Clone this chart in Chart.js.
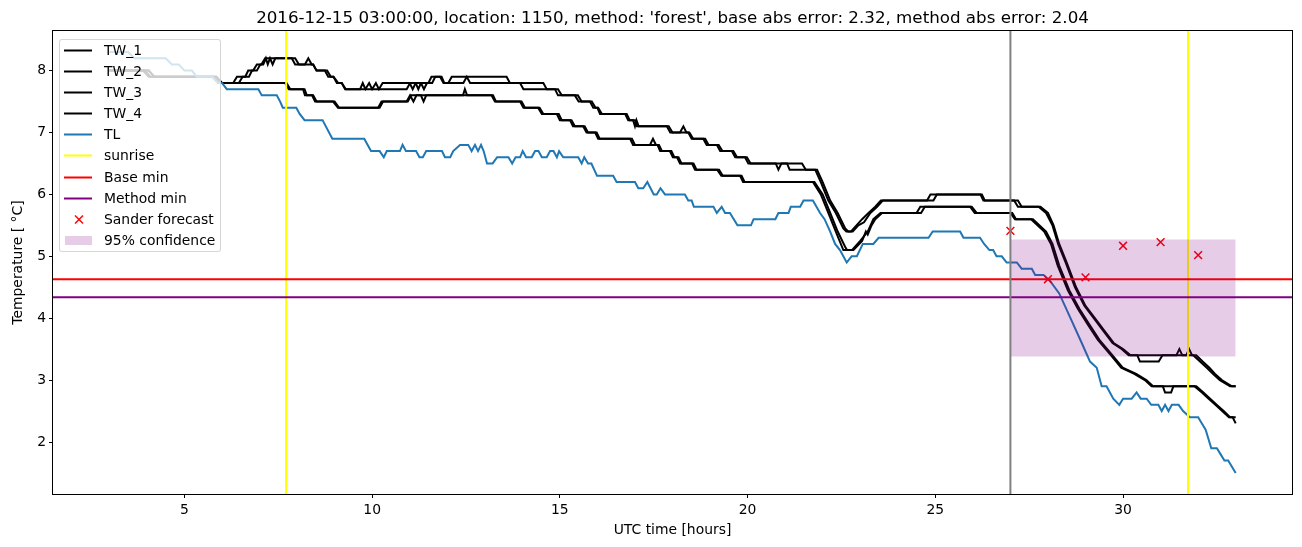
<!DOCTYPE html>
<html>
<head>
<meta charset="utf-8">
<title>forest 1150</title>
<script src="https://cdn.jsdelivr.net/npm/chart.js@4.4.1/dist/chart.umd.min.js"></script>
<style>
    body { margin: 0; background: #fff; font-family: 'DejaVu Sans', sans-serif; }
    #wrap { position: relative; width: 1302px; height: 547px; }
    #titulo { position: absolute; left: 53px; width: 1239px; top: 7px; text-align: center;
              font-size: 16.7px; line-height: 20px; color: #000; white-space: nowrap; }
    #leyenda { position: absolute; left: 59px; top: 39px; width: 160px; height: 211px;
               background: rgba(255,255,255,0.8); border: 1px solid rgba(204,204,204,0.8);
               border-radius: 3px; }
    .item { position: absolute; left: 0; width: 160px; height: 21px; line-height: 21px;
            font-size: 13.9px; color: #000; white-space: nowrap; }
    .item svg { position: absolute; left: 4px; top: 0; }
    .item span { position: absolute; left: 44px; top: 0; }
</style>
</head>
<body>
<div id="wrap">
    <canvas id="grafica" width="1302" height="547"></canvas>
    <div id="titulo">2016-12-15 03:00:00, location: 1150, method: 'forest', base abs error: 2.32, method abs error: 2.04</div>
    <div id="leyenda"></div>
</div>
<script>
"use strict"

// ejes
var xMin = 1.5, xMax = 34.5;
var yMin = 1.16, yMax = 8.64;
var xTicks = [5, 10, 15, 20, 25, 30];
var yTicks = [2, 3, 4, 5, 6, 7, 8];

// series [hora, temperatura]
var tl = [
    [3.0,8.3],[3.5,8.3],[3.67,8.2],[4.5,8.2],[4.67,8.1],[4.85,8.1],[5.0,8.0],[5.2,8.0],[5.33,7.9],[5.75,7.9],
    [5.9,7.8],[6.0,7.8],[6.13,7.7],[6.97,7.7],[7.06,7.6],[7.46,7.6],[7.55,7.5],[7.62,7.4],[7.98,7.4],[8.07,7.3],
    [8.2,7.2],[8.68,7.2],[8.94,6.9],[9.79,6.9],[9.97,6.7],[10.2,6.7],[10.31,6.6],[10.39,6.7],[10.74,6.7],[10.81,6.8],
    [10.9,6.7],[11.17,6.7],[11.26,6.6],[11.35,6.6],[11.44,6.7],[11.86,6.7],[11.94,6.6],[12.08,6.6],[12.16,6.7],[12.34,6.8],
    [12.56,6.8],[12.65,6.7],[12.74,6.8],[12.82,6.7],[12.9,6.8],[12.97,6.7],[13.06,6.5],[13.21,6.5],[13.33,6.6],[13.63,6.6],
    [13.73,6.5],[13.82,6.6],[13.94,6.6],[14.01,6.7],[14.1,6.6],[14.25,6.6],[14.34,6.7],[14.43,6.7],[14.52,6.6],[14.65,6.6],
    [14.74,6.7],[14.83,6.7],[14.92,6.6],[14.98,6.7],[15.09,6.6],[15.49,6.6],[15.58,6.5],[15.65,6.6],[15.75,6.5],[15.84,6.5],
    [15.99,6.3],[16.42,6.3],[16.51,6.2],[17.0,6.2],[17.09,6.1],[17.22,6.1],[17.33,6.2],[17.5,6.0],[17.58,6.0],[17.68,6.1],
    [17.8,6.0],[18.33,6.0],[18.42,5.9],[18.51,5.9],[18.57,5.8],[19.09,5.8],[19.18,5.7],[19.31,5.8],[19.4,5.7],[19.53,5.7],
    [19.73,5.5],[20.09,5.5],[20.16,5.6],[20.74,5.6],[20.82,5.7],[21.09,5.7],[21.15,5.8],[21.4,5.8],[21.49,5.9],[21.74,5.9],
    [21.93,5.7],[22.05,5.6],[22.2,5.4],[22.33,5.2],[22.46,5.1],[22.64,4.9],[22.77,5.0],[22.91,5.0],[23.07,5.2],[23.35,5.2],
    [23.49,5.3],[24.82,5.3],[24.93,5.4],[25.66,5.4],[25.75,5.3],[26.19,5.3],[26.3,5.2],[26.44,5.1],[26.54,5.1],[26.63,5.0],
    [26.77,5.0],[26.9,4.9],[27.17,4.9],[27.3,4.8],[27.57,4.8],[27.66,4.7],[27.88,4.7],[28.06,4.6],[28.3,4.4],[28.6,4.0],
    [28.9,3.6],[29.12,3.3],[29.3,3.2],[29.43,2.9],[29.56,2.9],[29.74,2.7],[29.9,2.6],[30.0,2.7],[30.23,2.7],[30.36,2.8],
    [30.47,2.7],[30.63,2.7],[30.75,2.6],[30.94,2.6],[31.03,2.5],[31.12,2.6],[31.21,2.5],[31.3,2.6],[31.48,2.6],[31.6,2.5],
    [31.78,2.4],[32.0,2.4],[32.1,2.3],[32.2,2.2],[32.35,1.9],[32.5,1.9],[32.6,1.8],[32.7,1.7],[32.8,1.7],[32.9,1.6],[33.0,1.5]
];

var tw1 = [
    [3.0,8.0],[3.9,8.0],[4.05,7.9],[5.75,7.9],[5.9,7.8],[6.3,7.8],[6.4,7.9],[6.62,7.9],[6.7,8.0],[6.83,8.0],
    [6.93,8.1],[7.05,8.1],[7.15,8.2],[7.86,8.2],[7.95,8.1],[8.21,8.1],[8.3,8.2],[8.39,8.1],[8.43,8.1],[8.52,8.0],
    [8.74,8.0],[8.83,7.9],[8.97,7.9],[9.06,7.8],[9.19,7.8],[9.28,7.7],[9.68,7.7],[9.75,7.8],[9.82,7.7],[9.92,7.8],
    [10.0,7.7],[10.1,7.8],[10.18,7.7],[10.28,7.8],[11.0,7.8],[11.08,7.7],[11.16,7.8],[11.3,7.8],[11.38,7.7],[11.46,7.8],
    [11.5,7.8],[11.58,7.9],[11.81,7.9],[11.9,7.8],[12.03,7.8],[12.12,7.9],[13.58,7.9],[13.67,7.8],[14.56,7.8],[14.65,7.7],
    [14.87,7.7],[14.95,7.6],[15.4,7.6],[15.5,7.5],[15.8,7.5],[15.89,7.4],[16.0,7.4],[16.07,7.3],[16.74,7.3],[16.82,7.2],
    [17.0,7.2],[17.05,7.1],[17.85,7.1],[17.94,7.0],[18.2,7.0],[18.29,7.1],[18.37,7.0],[18.42,7.0],[18.51,6.9],[18.82,6.9],
    [18.91,6.8],[19.18,6.8],[19.27,6.7],[19.58,6.7],[19.67,6.6],[19.93,6.6],[20.02,6.5],[21.45,6.5],[21.55,6.4],[21.85,6.4],
    [22.0,6.2],[22.2,5.9],[22.4,5.7],[22.6,5.45],[22.68,5.4],[22.8,5.4],[22.95,5.5],[23.1,5.55],[23.27,5.7],[23.45,5.8],
    [23.6,5.9],[24.78,5.9],[24.87,6.0],[26.2,6.0],[26.28,5.9],[27.1,5.9],[27.2,5.8],[27.8,5.8],[28.0,5.7],[28.15,5.5],
    [28.3,5.2],[28.5,4.9],[28.75,4.5],[29.0,4.2],[29.25,4.0],[29.5,3.8],[29.75,3.6],[30.0,3.5],[30.2,3.4],[31.42,3.4],
    [31.5,3.5],[31.58,3.4],[31.87,3.4],[32.05,3.3],[32.23,3.2],[32.4,3.1],[32.58,3.0],[32.85,2.9],[33.0,2.9]
];

var tw2 = [
    [3.0,8.0],[4.05,8.0],[4.2,7.9],[5.85,7.9],[6.0,7.8],[6.45,7.8],[6.55,7.9],[6.72,7.9],[6.8,8.0],[6.93,8.0],
    [7.02,8.1],[7.1,8.1],[7.17,8.2],[7.22,8.1],[7.28,8.2],[7.35,8.1],[7.42,8.2],[7.95,8.2],[8.05,8.1],[8.43,8.1],
    [8.52,8.0],[8.8,8.0],[8.9,7.9],[8.97,7.9],[9.1,7.8],[9.19,7.8],[9.3,7.7],[10.92,7.7],[11.01,7.8],[11.16,7.8],
    [11.23,7.7],[11.3,7.8],[11.6,7.8],[11.68,7.9],[11.85,7.9],[11.92,7.8],[12.43,7.8],[12.52,7.9],[12.61,7.8],[13.94,7.8],
    [14.03,7.7],[14.95,7.7],[15.05,7.6],[15.48,7.6],[15.58,7.5],[15.85,7.5],[15.95,7.4],[16.02,7.4],[16.12,7.3],[16.78,7.3],
    [16.86,7.2],[16.95,7.2],[17.0,7.1],[17.04,7.2],[17.1,7.1],[17.9,7.1],[18.0,7.0],[18.45,7.0],[18.55,6.9],[18.87,6.9],
    [18.96,6.8],[19.23,6.8],[19.33,6.7],[19.62,6.7],[19.72,6.6],[19.98,6.6],[20.08,6.5],[20.75,6.5],[20.82,6.4],[20.9,6.5],
    [21.05,6.5],[21.12,6.4],[21.8,6.4],[21.95,6.2],[22.15,5.9],[22.35,5.7],[22.55,5.45],[22.63,5.4],[22.75,5.4],[22.9,5.5],
    [23.05,5.6],[23.22,5.7],[23.4,5.8],[23.55,5.9],[24.95,5.9],[25.04,6.0],[26.24,6.0],[26.32,5.9],[27.2,5.9],[27.3,5.8],
    [27.75,5.8],[27.95,5.7],[28.12,5.5],[28.27,5.2],[28.47,4.9],[28.72,4.5],[28.97,4.2],[29.22,4.0],[29.47,3.8],[29.72,3.6],
    [29.97,3.5],[30.15,3.4],[30.38,3.4],[30.45,3.3],[30.95,3.3],[31.05,3.4],[31.68,3.4],[31.76,3.5],[31.84,3.4],[31.95,3.4],
    [32.12,3.3],[32.3,3.2],[32.45,3.1],[32.63,3.0],[32.9,2.9],[33.0,2.9]
];

var tw3 = [
    [3.0,8.0],[3.95,8.0],[4.1,7.9],[5.78,7.9],[5.92,7.8],[7.68,7.8],[7.78,7.7],[8.16,7.7],[8.21,7.6],[8.4,7.6],
    [8.48,7.5],[8.96,7.5],[9.09,7.4],[10.16,7.4],[10.25,7.5],[10.92,7.5],[11.01,7.6],[11.1,7.5],[11.18,7.6],[12.42,7.6],
    [12.47,7.7],[12.53,7.6],[13.18,7.6],[13.27,7.5],[13.94,7.5],[14.03,7.4],[14.42,7.4],[14.52,7.3],[14.92,7.3],[15.0,7.2],
    [15.27,7.2],[15.35,7.1],[15.62,7.1],[15.71,7.0],[15.94,7.0],[16.02,6.9],[16.87,6.9],[16.95,6.8],[17.4,6.8],[17.48,6.9],
    [17.56,6.8],[17.6,6.8],[17.67,6.7],[17.93,6.7],[18.01,6.6],[18.12,6.6],[18.2,6.5],[18.52,6.5],[18.6,6.4],[19.19,6.4],
    [19.3,6.3],[19.8,6.3],[19.88,6.2],[21.74,6.2],[21.95,6.0],[22.15,5.7],[22.35,5.4],[22.55,5.1],[22.78,5.1],[23.0,5.25],
    [23.2,5.4],[23.35,5.6],[23.54,5.7],[24.5,5.7],[24.6,5.8],[25.93,5.8],[26.05,5.7],[27.05,5.7],[27.15,5.6],[27.6,5.6],
    [27.95,5.4],[28.12,5.2],[28.3,4.85],[28.57,4.45],[28.84,4.15],[29.1,3.9],[29.37,3.65],[29.72,3.4],[29.99,3.2],[30.35,3.1],
    [30.62,3.0],[30.8,2.9],[31.95,2.9],[32.14,2.8],[32.32,2.7],[32.5,2.6],[32.68,2.5],[32.85,2.4],[33.0,2.4]
];

var tw4 = [
    [3.0,8.0],[4.05,8.0],[4.2,7.9],[5.85,7.9],[6.0,7.8],[7.72,7.8],[7.82,7.7],[8.2,7.7],[8.26,7.6],[8.43,7.6],
    [8.52,7.5],[9.0,7.5],[9.12,7.4],[10.2,7.4],[10.29,7.5],[10.95,7.5],[11.04,7.6],[11.3,7.6],[11.37,7.5],[11.44,7.6],
    [13.22,7.6],[13.3,7.5],[13.98,7.5],[14.07,7.4],[14.46,7.4],[14.56,7.3],[14.97,7.3],[15.05,7.2],[15.31,7.2],[15.4,7.1],
    [15.66,7.1],[15.75,7.0],[15.98,7.0],[16.06,6.9],[16.92,6.9],[17.0,6.8],[17.64,6.8],[17.72,6.7],[17.97,6.7],[18.05,6.6],
    [18.16,6.6],[18.24,6.5],[18.56,6.5],[18.64,6.4],[19.24,6.4],[19.34,6.3],[19.84,6.3],[19.92,6.2],[21.78,6.2],[22.0,6.0],
    [22.2,5.7],[22.4,5.4],[22.6,5.15],[22.65,5.1],[22.82,5.1],[23.05,5.25],[23.15,5.4],[23.2,5.35],[23.3,5.5],[23.4,5.6],
    [23.58,5.7],[24.62,5.7],[24.72,5.8],[25.97,5.8],[26.1,5.7],[27.0,5.7],[27.12,5.6],[27.55,5.6],[27.9,5.4],[28.08,5.2],
    [28.26,4.85],[28.53,4.45],[28.8,4.15],[29.06,3.9],[29.33,3.65],[29.68,3.4],[29.95,3.2],[30.3,3.1],[30.58,3.0],[30.76,2.9],
    [31.06,2.9],[31.12,2.8],[31.28,2.8],[31.34,2.9],[31.9,2.9],[32.1,2.8],[32.28,2.7],[32.46,2.6],[32.64,2.5],[32.82,2.4],
    [32.92,2.4],[33.0,2.3]
];

// pronostico y referencias
var forecastHours = [27, 28, 29, 30, 31, 32];
var forecastTemps = [5.41, 4.63, 4.66, 5.17, 5.23, 5.02];
var sunriseHours = [7.71, 31.73];
var forecastStart = 27;
var baseMin = 4.63;
var methodMin = 4.34;
var confHours = [27, 33];
var confLow = 3.38;
var confHigh = 5.27;

var puntos = function (lista) {
    return lista.map(function (p) { return {x: p[0], y: p[1]}; });
};

var vertical = function (horas) {
    var out = [];
    horas.forEach(function (h, i) {
        if (i > 0) out.push({x: h, y: null});
        out.push({x: h, y: yMin});
        out.push({x: h, y: yMax});
    });
    return out;
};

var horizontal = function (valor) {
    return [{x: xMin, y: valor}, {x: xMax, y: valor}];
};

var linea = function (label, data, color) {
    return {label: label, data: data, borderColor: color, backgroundColor: color,
            borderWidth: 2, pointRadius: 0, tension: 0, fill: false};
};

var datasets = [
    linea('TW_1', puntos(tw1), '#000000'),
    linea('TW_2', puntos(tw2), '#000000'),
    linea('TW_3', puntos(tw3), '#000000'),
    linea('TW_4', puntos(tw4), '#000000'),
    linea('TL', puntos(tl), '#1f77b4'),
    linea('sunrise', vertical(sunriseHours), '#ffff00'),
    linea('Base min', horizontal(baseMin), '#ff0000'),
    linea('Method min', horizontal(methodMin), '#800080'),
    {label: 'Sander forecast',
     data: forecastHours.map(function (h, i) { return {x: h, y: forecastTemps[i]}; }),
     showLine: false, pointStyle: 'crossRot', pointRadius: 5.5, borderColor: '#ff0000',
     backgroundColor: '#ff0000', pointBorderWidth: 1.5},
    {label: '95% confidence',
     data: confHours.map(function (h) { return {x: h, y: confHigh}; }),
     borderWidth: 0, pointRadius: 0, backgroundColor: 'rgba(128,0,128,0.2)',
     fill: {value: confLow}},
    linea('forecast time', vertical([forecastStart]), '#808080')
];
// matplotlib pinta encima lo ultimo
datasets.forEach(function (d, i) { d.order = datasets.length - i; });

var marco = {
    id: 'marco',
    afterDatasetsDraw: function (chart) {
        var a = chart.chartArea;
        var ctx = chart.ctx;
        ctx.save();
        ctx.strokeStyle = '#000';
        ctx.lineWidth = 1;
        ctx.strokeRect(a.left - 0.5, a.top - 0.5, a.right - a.left + 1, a.bottom - a.top + 1);
        ctx.restore();
    }
};

Chart.defaults.font.family = "'DejaVu Sans', sans-serif";
Chart.defaults.font.size = 13.9;
Chart.defaults.color = '#000';

new Chart(document.getElementById('grafica'), {
    type: 'line',
    data: {datasets: datasets},
    plugins: [marco],
    options: {
        responsive: false,
        animation: false,
        devicePixelRatio: 1,
        layout: {padding: {left: 0, right: 10, top: 31, bottom: 0}},
        plugins: {legend: {display: false}, tooltip: {enabled: false}, title: {display: false}},
        scales: {
            x: {
                type: 'linear', min: xMin, max: xMax,
                afterFit: function (s) { s.height = 53; },
                afterBuildTicks: function (s) { s.ticks = xTicks.map(function (v) { return {value: v}; }); },
                ticks: {autoSkip: false, maxRotation: 0, padding: 4,
                        callback: function (v) { return String(v); }},
                grid: {drawOnChartArea: false, drawTicks: true, tickLength: 4, color: '#000'},
                border: {display: false},
                title: {display: true, text: 'UTC time [hours]', padding: {top: 0, bottom: 8.7}}
            },
            y: {
                type: 'linear', min: yMin, max: yMax,
                afterFit: function (s) { s.width = 53; },
                afterBuildTicks: function (s) { s.ticks = yTicks.map(function (v) { return {value: v}; }); },
                ticks: {autoSkip: false, padding: 3,
                        callback: function (v) { return String(v); }},
                grid: {drawOnChartArea: false, drawTicks: true, tickLength: 4, color: '#000'},
                border: {display: false},
                title: {display: true, text: 'Temperature [ °C]', padding: {top: 9.7, bottom: 0}}
            }
        }
    }
});

// leyenda tipo matplotlib
var entradas = [
    {texto: 'TW_1', tipo: 'linea', color: '#000000'},
    {texto: 'TW_2', tipo: 'linea', color: '#000000'},
    {texto: 'TW_3', tipo: 'linea', color: '#000000'},
    {texto: 'TW_4', tipo: 'linea', color: '#000000'},
    {texto: 'TL', tipo: 'linea', color: '#1f77b4'},
    {texto: 'sunrise', tipo: 'linea', color: '#ffff00'},
    {texto: 'Base min', tipo: 'linea', color: '#ff0000'},
    {texto: 'Method min', tipo: 'linea', color: '#800080'},
    {texto: 'Sander forecast', tipo: 'cruz', color: '#ff0000'},
    {texto: '95% confidence', tipo: 'caja', color: 'rgba(128,0,128,0.2)'}
];

var leyenda = document.getElementById('leyenda');
entradas.forEach(function (e, i) {
    var div = document.createElement('div');
    div.className = 'item';
    div.style.top = (10.7 + 21.05 * i - 10.5) + 'px';
    var svg = '<svg width="30" height="21">';
    if (e.tipo === 'linea') {
        svg += '<line x1="0" y1="10.5" x2="28" y2="10.5" stroke="' + e.color + '" stroke-width="2"/>';
    } else if (e.tipo === 'cruz') {
        svg += '<line x1="11" y1="6.5" x2="19" y2="14.5" stroke="' + e.color + '" stroke-width="1.5"/>' +
               '<line x1="11" y1="14.5" x2="19" y2="6.5" stroke="' + e.color + '" stroke-width="1.5"/>';
    } else {
        svg += '<rect x="1" y="6" width="27" height="9" fill="' + e.color + '"/>';
    }
    svg += '</svg>';
    div.innerHTML = svg + '<span>' + e.texto + '</span>';
    leyenda.appendChild(div);
});
</script>
</body>
</html>
